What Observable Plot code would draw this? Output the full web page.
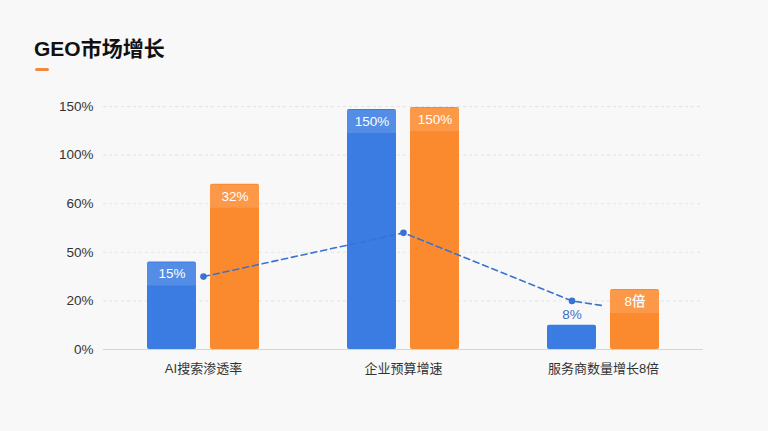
<!DOCTYPE html>
<html><head><meta charset="utf-8">
<script src="https://cdn.jsdelivr.net/npm/d3@7"></script>
<script src="https://cdn.jsdelivr.net/npm/@observablehq/plot@0.6"></script>
<style>
html,body{margin:0;padding:0;background:#f8f8f9;width:768px;height:431px;overflow:hidden;font-family:"Liberation Sans","Noto Sans CJK SC",sans-serif;}
#head{position:relative;height:90px;}
#title{position:absolute;left:34px;top:36px;font-size:21px;line-height:26px;font-weight:700;color:#111;}
#bar{position:absolute;left:35px;top:68px;width:14px;height:3px;border-radius:2px;background:#f08a3c;}
#chart svg{display:block;}
</style></head>
<body>
<div id="head"><div id="title">GEO市场增长</div><div id="bar"></div></div>
<div id="chart"></div>
<script>
const categories = ["AI搜索渗透率", "企业预算增速", "服务商数量增长8倍"];
const yTicks = [0, 20, 50, 60, 100, 150];
const yTickLabels = ["0%", "20%", "50%", "60%", "100%", "150%"];
const blueValues = [44, 147, 10];
const orangeValues = [76, 149, 27];
const blueLabels = ["15%", "150%", "8%"];
const orangeLabels = ["32%", "150%", "8倍"];
const lineCategories = ["AI搜索渗透率", "企业预算增速", "服务商数量增长8倍", "服务商数量增长8倍"];
const lineSlots = ["center", "center", "blue", "center"];
const lineValues = [35, 54, 20, 18];
const lineMarkers = [true, true, true, false];

const W = 768, H = 341, mT = 16, mB = 82, mL = 103, mR = 65;
const BLUE = "#3b7ce2", ORANGE = "#fb8a2e";
const FONT = '"Liberation Sans","Noto Sans CJK SC",sans-serif';
const slotOffset = {blue: -0.1575, center: 0, orange: 0.1575};
const halfW = 0.1225;

const bars = [];
categories.forEach((c, i) => {
  bars.push({i, slot: "blue", v: blueValues[i], label: blueLabels[i], color: BLUE});
  bars.push({i, slot: "orange", v: orangeValues[i], label: orangeLabels[i], color: ORANGE});
});
const cx = d => d.i + slotOffset[d.slot];
const inside = d => !(d.slot === "blue" && d.i === 2);
const lineData = lineCategories.map((c, k) => ({i: categories.indexOf(c), slot: lineSlots[k], v: lineValues[k], m: lineMarkers[k]}));

const y0 = H - mB, y1 = mT;
const yRange = yTicks.map((_, k) => y0 + (y1 - y0) * k / (yTicks.length - 1));

const plot = Plot.plot({
  width: W, height: H, marginTop: mT, marginBottom: mB, marginLeft: mL, marginRight: mR,
  style: {background: "transparent", fontFamily: FONT},
  x: {type: "linear", domain: [-0.5, 2.5]},
  y: {type: "linear", domain: yTicks, range: yRange},
  marks: [
    Plot.ruleY(yTicks.filter(t => t > 0), {stroke: "#e2e3e6", strokeDasharray: "3,3", strokeWidth: 1}),
    Plot.rectY(bars, {x1: d => cx(d) - halfW, x2: d => cx(d) + halfW, y1: 0, y2: "v", fill: "color", rx: 2}),
    Plot.ruleY(bars.filter(inside), {x1: d => cx(d) - halfW, x2: d => cx(d) + halfW, y: "v", dy: 12, strokeWidth: 23, stroke: "white", strokeOpacity: 0.13}),
    Plot.ruleY([0], {stroke: "#d4d5d8", strokeWidth: 1}),
    Plot.line(lineData, {x: cx, y: "v", stroke: "#3a72cf", strokeWidth: 1.6, strokeDasharray: "6,4"}),
    Plot.dot(lineData.filter(d => d.m), {x: cx, y: "v", r: 3.3, fill: "#3a72cf", stroke: "none"}),
    Plot.text(bars.filter(inside), {x: cx, y: "v", text: "label", dy: 12, fill: "white", fontSize: 13.5, fontWeight: 500}),
    Plot.text(bars.filter(d => !inside(d)), {x: cx, y: "v", text: "label", dy: -11, fill: "#3a6fc4", fontSize: 13.5}),
    Plot.axisX({ticks: [0, 1, 2], tickFormat: i => categories[i], tickSize: 0, tickPadding: 14, fontSize: 13, color: "#333", label: null}),
    Plot.axisY({ticks: yTicks, tickFormat: t => yTickLabels[yTicks.indexOf(t)], tickSize: 0, tickPadding: 10, fontSize: 13.5, color: "#333", label: null})
  ]
});
document.getElementById("chart").appendChild(plot);
</script>
</body></html>
